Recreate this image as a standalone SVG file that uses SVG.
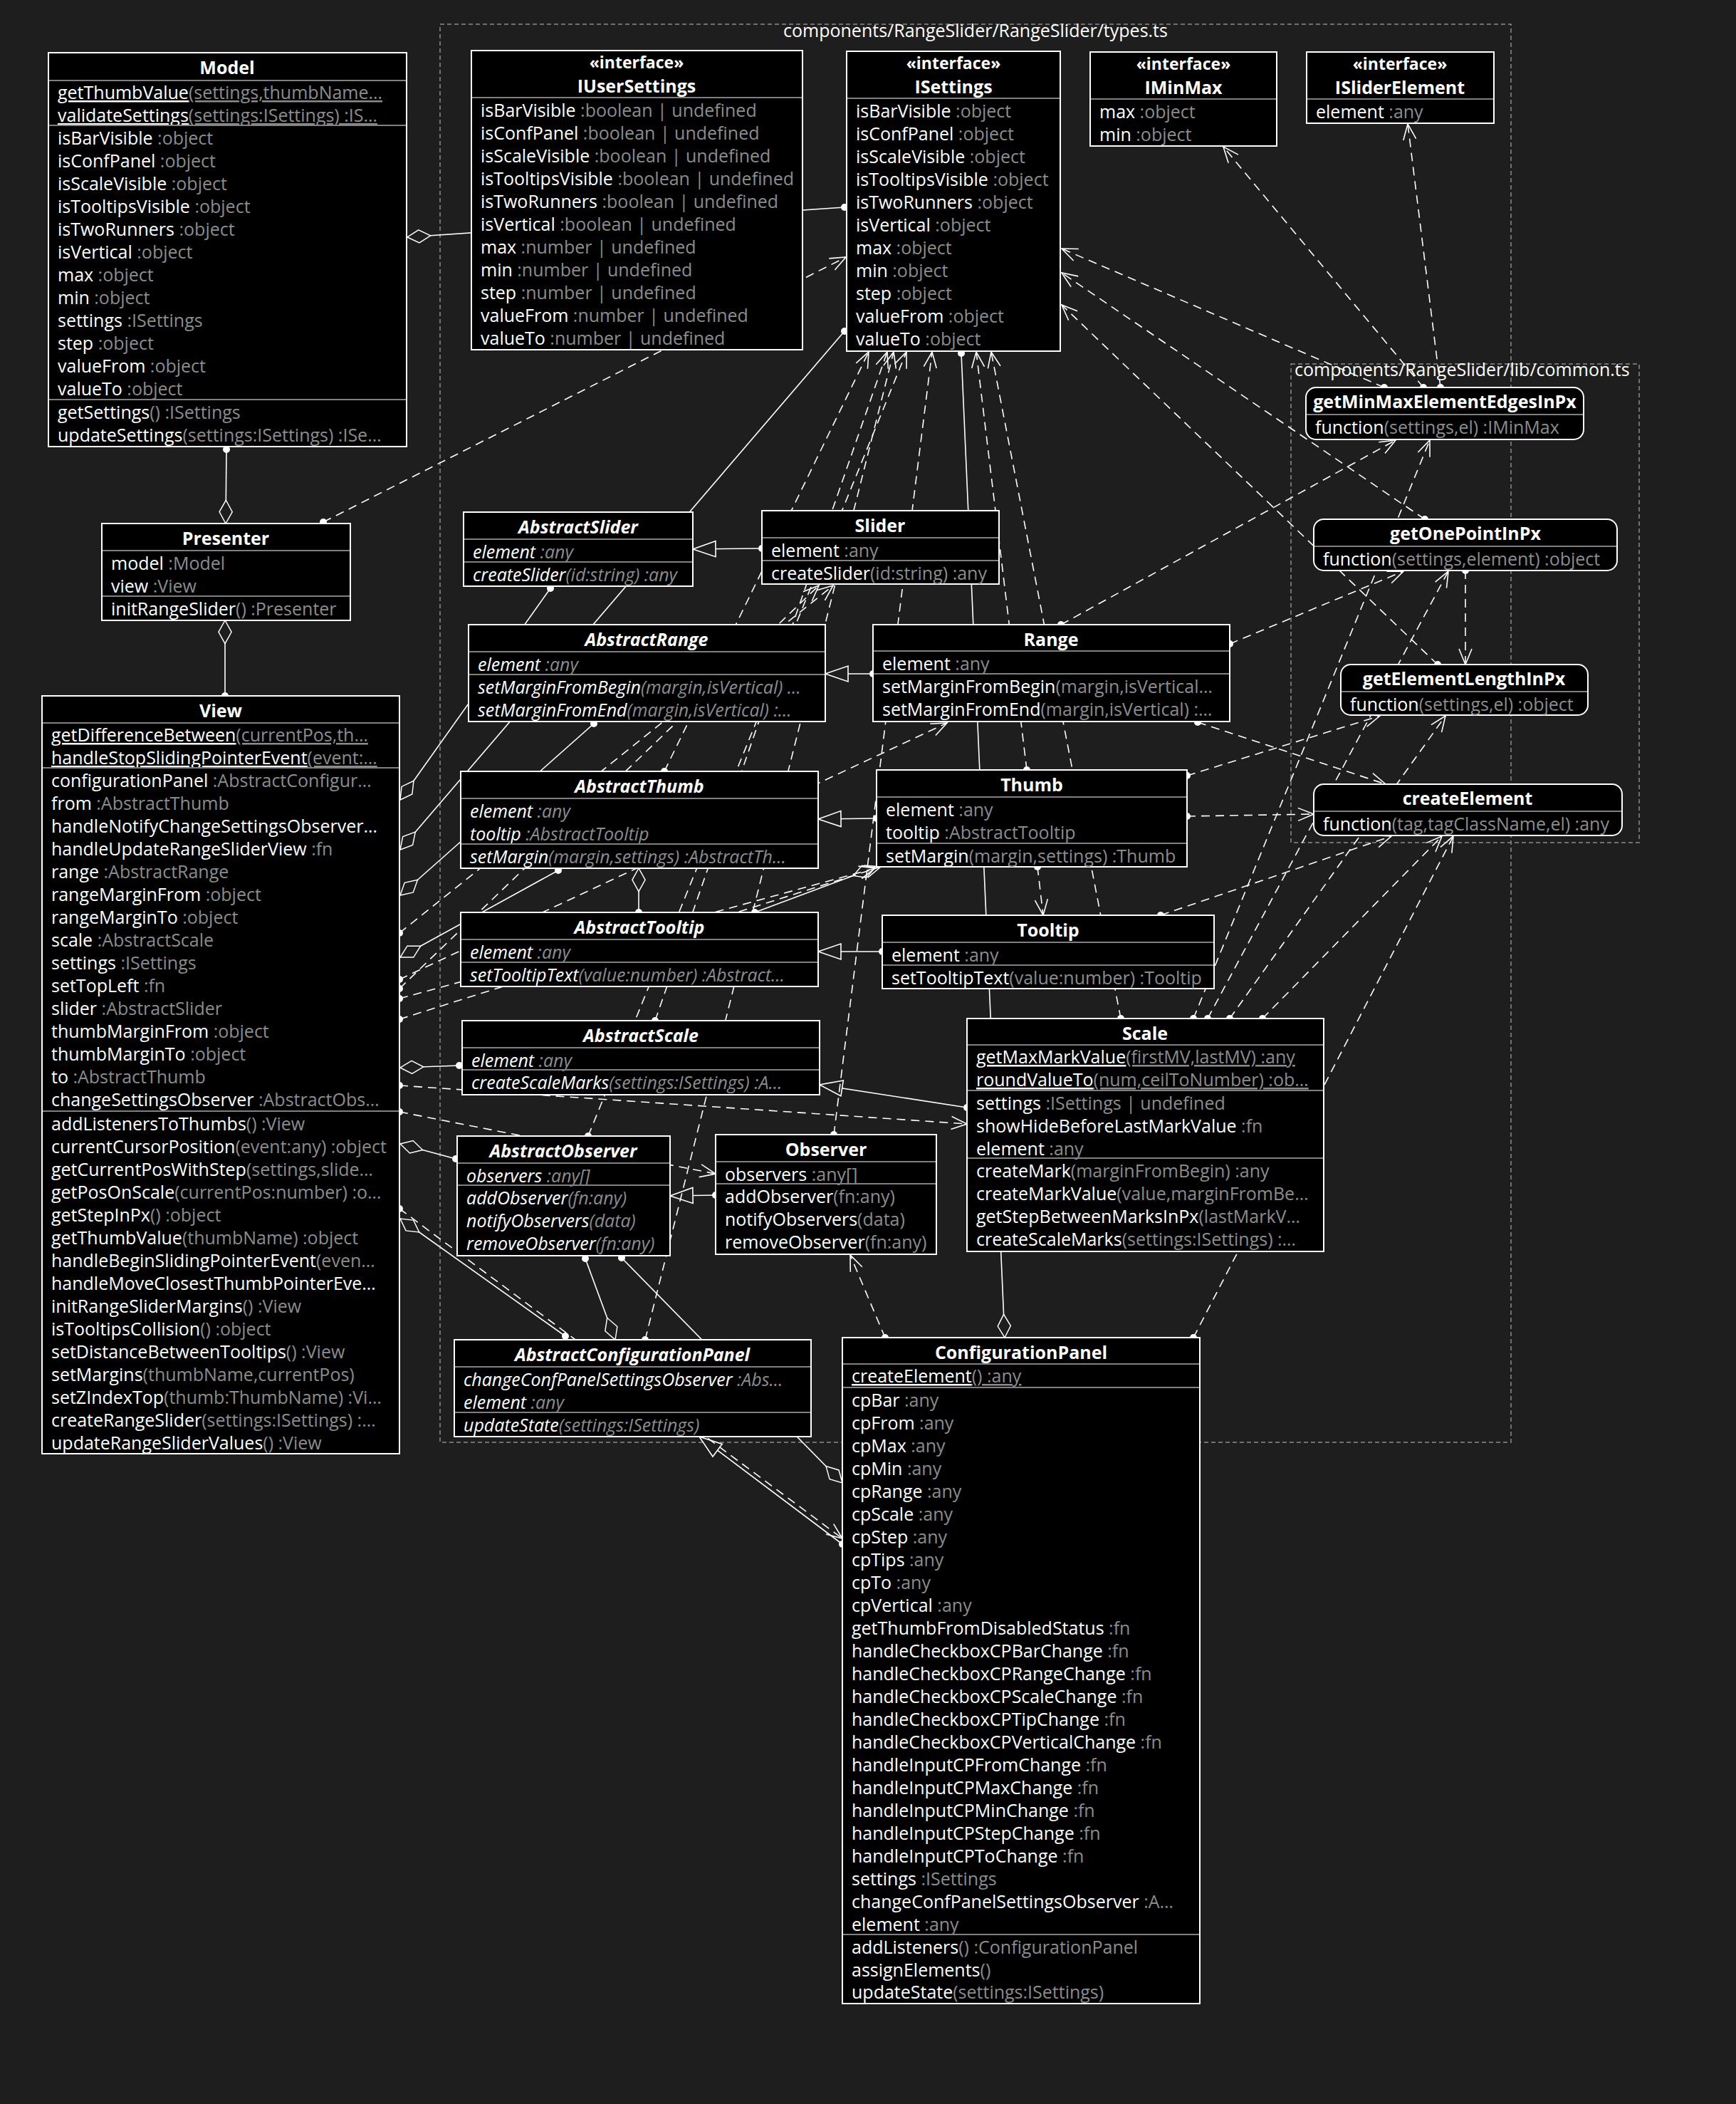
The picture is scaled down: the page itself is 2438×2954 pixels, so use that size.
<svg xmlns="http://www.w3.org/2000/svg" width="2438" height="2954" viewBox="0 0 2438 2954">
<style>
text{font-family:"Open Sans","DejaVu Sans",sans-serif;font-size:25px;fill:#fff}
.t{fill:#8c8c8c}
.hd{font-weight:bold;text-anchor:middle}
.st{font-size:23px}
.it{font-style:italic}
.u{text-decoration:underline}
.box{fill:#000;stroke:#fff;stroke-width:2}
.sep{stroke:#808080;stroke-width:2}
.pkg{fill:none;stroke:#8c8c8c;stroke-width:1.5;stroke-dasharray:6 4}
.c{fill:none;stroke:#fff;stroke-width:1.6}
.d{stroke-dasharray:12 8}
</style>
<defs>
<marker id="arr" markerUnits="userSpaceOnUse" markerWidth="40" markerHeight="40" viewBox="-30 -20 40 40" refX="0" refY="0" orient="auto" overflow="visible"><path d="M-22,-9 L0,0 L-22,9" fill="none" stroke="#fff" stroke-width="1.6"/></marker>
<marker id="tri" markerUnits="userSpaceOnUse" markerWidth="40" markerHeight="40" viewBox="-36 -20 40 40" refX="0" refY="0" orient="auto" overflow="visible"><path d="M0,0 L-32,-11 L-32,11 Z" fill="#1e1e1e" stroke="#fff" stroke-width="1.6"/></marker>
<marker id="dia" markerUnits="userSpaceOnUse" markerWidth="40" markerHeight="40" viewBox="-40 -20 44 40" refX="0" refY="0" orient="auto" overflow="visible"><path d="M0,0 L-18,-10 L-36,0 L-18,10 Z" fill="#1e1e1e" stroke="#fff" stroke-width="1.6"/></marker>
<marker id="dot" markerUnits="userSpaceOnUse" markerWidth="12" markerHeight="12" viewBox="-6 -6 12 12" refX="0" refY="0" overflow="visible"><circle r="5" fill="#fff"/></marker>
</defs>
<rect width="2438" height="2954" fill="#1e1e1e"/>

<g id="pkg-types">
<rect class="pkg" x="618" y="34" width="1504" height="1991"/>
<text x="1370" y="52" text-anchor="middle">components/RangeSlider/RangeSlider/types.ts</text>
</g>
<g id="pkg-common">
<rect class="pkg" x="1813" y="511" width="489" height="672"/>
<text x="1818" y="528">components/RangeSlider/lib/common.ts</text>
</g>

<g id="connectors">
<path class="c" d="M1186,291 L572,333" marker-start="url(#dot)" marker-end="url(#dia)"/>
<path class="c" d="M318,631 L317,735" marker-start="url(#dot)" marker-end="url(#dia)"/>
<path class="c" d="M316,977 L316,871" marker-start="url(#dot)" marker-end="url(#dia)"/>
<path class="c" d="M1186,465 L562,1193" marker-start="url(#dot)" marker-end="url(#dia)"/>
<path class="c" d="M773,826 L562,1123" marker-start="url(#dot)" marker-end="url(#dia)"/>
<path class="c" d="M834,1016 L562,1257" marker-start="url(#dot)" marker-end="url(#dia)"/>
<path class="c" d="M784,1222 L562,1344" marker-start="url(#dot)" marker-end="url(#dia)"/>
<path class="c" d="M645,1496 L562,1499" marker-start="url(#dot)" marker-end="url(#dia)"/>
<path class="c" d="M640,1627 L562,1606" marker-start="url(#dot)" marker-end="url(#dia)"/>
<path class="c" d="M794,1876 L562,1711" marker-start="url(#dot)" marker-end="url(#dia)"/>
<path class="c" d="M1350,496 L1411,1878" marker-start="url(#dot)" marker-end="url(#dia)"/>
<path class="c" d="M873,1766 L1183,2082" marker-start="url(#dot)" marker-end="url(#dia)"/>
<path class="c" d="M822,1767 L864,1881" marker-start="url(#dot)" marker-end="url(#dia)"/>
<path class="c" d="M897,1281 L897,1219" marker-start="url(#dot)" marker-end="url(#dia)"/>
<path class="c" d="M1060,1281 L1229,1218" marker-start="url(#dot)" marker-end="url(#dia)"/>
<path class="c" d="M1070,770 L973,771" marker-start="url(#dot)" marker-end="url(#tri)"/>
<path class="c" d="M1226,946 L1159,946" marker-start="url(#dot)" marker-end="url(#tri)"/>
<path class="c" d="M1231,1149 L1149,1150" marker-start="url(#dot)" marker-end="url(#tri)"/>
<path class="c" d="M1239,1336 L1149,1336" marker-start="url(#dot)" marker-end="url(#tri)"/>
<path class="c" d="M1358,1555 L1151,1523" marker-start="url(#dot)" marker-end="url(#tri)"/>
<path class="c" d="M1005,1678 L941,1679" marker-start="url(#dot)" marker-end="url(#tri)"/>
<path class="c" d="M1183,2168 L982,2017" marker-start="url(#dot)" marker-end="url(#tri)"/>
<path class="c d" d="M454,733 L1188,361" marker-start="url(#dot)" marker-end="url(#arr)"/>
<path class="c d" d="M1944,544 L1491,349" marker-start="url(#dot)" marker-end="url(#arr)"/>
<path class="c d" d="M2001,729 L1491,383" marker-start="url(#dot)" marker-end="url(#arr)"/>
<path class="c d" d="M2019,933 L1491,428" marker-start="url(#dot)" marker-end="url(#arr)"/>
<path class="c d" d="M1999,544 L1718,206" marker-start="url(#dot)" marker-end="url(#arr)"/>
<path class="c d" d="M2023,544 L1977,174" marker-start="url(#dot)" marker-end="url(#arr)"/>
<path class="c d" d="M2058,801 L2058,933" marker-start="url(#dot)" marker-end="url(#arr)"/>
<path class="c d" d="M1490,877 L1960,618" marker-start="url(#dot)" marker-end="url(#arr)"/>
<path class="c d" d="M1727,904 L1971,802" marker-start="url(#dot)" marker-end="url(#arr)"/>
<path class="c d" d="M1667,1089 L1938,1005" marker-start="url(#dot)" marker-end="url(#arr)"/>
<path class="c d" d="M1676,1430 L2008,618" marker-start="url(#dot)" marker-end="url(#arr)"/>
<path class="c d" d="M1696,1430 L2034,802" marker-start="url(#dot)" marker-end="url(#arr)"/>
<path class="c d" d="M1727,1430 L2030,1005" marker-start="url(#dot)" marker-end="url(#arr)"/>
<path class="c d" d="M1773,1430 L2025,1174" marker-start="url(#dot)" marker-end="url(#arr)"/>
<path class="c d" d="M1667,1146 L1845,1143" marker-start="url(#dot)" marker-end="url(#arr)"/>
<path class="c d" d="M1682,1014 L1946,1101" marker-start="url(#dot)" marker-end="url(#arr)"/>
<path class="c d" d="M1630,1285 L1954,1174" marker-start="url(#dot)" marker-end="url(#arr)"/>
<path class="c d" d="M1676,1878 L2041,1174" marker-start="url(#dot)" marker-end="url(#arr)"/>
<path class="c d" d="M1574,1430 L1392,494" marker-start="url(#dot)" marker-end="url(#arr)"/>
<path class="c d" d="M1442,1081 L1371,494" marker-start="url(#dot)" marker-end="url(#arr)"/>
<path class="c d" d="M933,1083 L1220,494" marker-start="url(#dot)" marker-end="url(#arr)"/>
<path class="c d" d="M920,1433 L1246,494" marker-start="url(#dot)" marker-end="url(#arr)"/>
<path class="c d" d="M906,1881 L1255,494" marker-start="url(#dot)" marker-end="url(#arr)"/>
<path class="c d" d="M826,1595 L1273,494" marker-start="url(#dot)" marker-end="url(#arr)"/>
<path class="c d" d="M1171,1593 L1309,494" marker-start="url(#dot)" marker-end="url(#arr)"/>
<path class="c d" d="M561,1310 L1170,822" marker-start="url(#dot)" marker-end="url(#arr)"/>
<path class="c d" d="M561,1375 L1330,1015" marker-start="url(#dot)" marker-end="url(#arr)"/>
<path class="c d" d="M561,1388 L1150,822" marker-start="url(#dot)" marker-end="url(#arr)"/>
<path class="c d" d="M561,1402 L1229,1219" marker-start="url(#dot)" marker-end="url(#arr)"/>
<path class="c d" d="M561,1431 L1237,1217" marker-start="url(#dot)" marker-end="url(#arr)"/>
<path class="c d" d="M561,1524 L1358,1578" marker-start="url(#dot)" marker-end="url(#arr)"/>
<path class="c d" d="M561,1561 L1005,1648" marker-start="url(#dot)" marker-end="url(#arr)"/>
<path class="c d" d="M561,1697 L1183,2160" marker-start="url(#dot)" marker-end="url(#arr)"/>
<path class="c d" d="M1457,1217 L1465,1285" marker-start="url(#dot)" marker-end="url(#arr)"/>
<path class="c d" d="M1243,1878 L1194,1762" marker-start="url(#dot)" marker-end="url(#arr)"/>
</g>

<g id="Model">
<rect class="box" x="68" y="74" width="503" height="553"/>
<text class="hd" x="319" y="104">Model</text>
<line class="sep" x1="69" y1="113" x2="570" y2="113"/>
<text x="81" y="139"><tspan class="u">getThumbValue</tspan><tspan class="t u">(settings,thumbName…</tspan></text>
<text x="81" y="171"><tspan class="u">validateSettings</tspan><tspan class="t u">(settings:ISettings) :IS…</tspan></text>
<line class="sep" x1="69" y1="176" x2="570" y2="176"/>
<text x="81" y="203">isBarVisible<tspan class="t"> :object</tspan></text>
<text x="81" y="235">isConfPanel<tspan class="t"> :object</tspan></text>
<text x="81" y="267">isScaleVisible<tspan class="t"> :object</tspan></text>
<text x="81" y="299">isTooltipsVisible<tspan class="t"> :object</tspan></text>
<text x="81" y="331">isTwoRunners<tspan class="t"> :object</tspan></text>
<text x="81" y="363">isVertical<tspan class="t"> :object</tspan></text>
<text x="81" y="395">max<tspan class="t"> :object</tspan></text>
<text x="81" y="427">min<tspan class="t"> :object</tspan></text>
<text x="81" y="459">settings<tspan class="t"> :ISettings</tspan></text>
<text x="81" y="491">step<tspan class="t"> :object</tspan></text>
<text x="81" y="523">valueFrom<tspan class="t"> :object</tspan></text>
<text x="81" y="555">valueTo<tspan class="t"> :object</tspan></text>
<line class="sep" x1="69" y1="561" x2="570" y2="561"/>
<text x="81" y="588">getSettings<tspan class="t">() :ISettings</tspan></text>
<text x="81" y="620">updateSettings<tspan class="t">(settings:ISettings) :ISe…</tspan></text>
</g>

<g id="IUserSettings">
<rect class="box" x="662" y="71" width="465" height="420"/>
<text class="hd st" x="894" y="96">«interface»</text>
<text class="hd" x="894" y="130">IUserSettings</text>
<line class="sep" x1="663" y1="137" x2="1126" y2="137"/>
<text x="675" y="164">isBarVisible<tspan class="t"> :boolean | undefined</tspan></text>
<text x="675" y="196">isConfPanel<tspan class="t"> :boolean | undefined</tspan></text>
<text x="675" y="228">isScaleVisible<tspan class="t"> :boolean | undefined</tspan></text>
<text x="675" y="260">isTooltipsVisible<tspan class="t"> :boolean | undefined</tspan></text>
<text x="675" y="292">isTwoRunners<tspan class="t"> :boolean | undefined</tspan></text>
<text x="675" y="324">isVertical<tspan class="t"> :boolean | undefined</tspan></text>
<text x="675" y="356">max<tspan class="t"> :number | undefined</tspan></text>
<text x="675" y="388">min<tspan class="t"> :number | undefined</tspan></text>
<text x="675" y="420">step<tspan class="t"> :number | undefined</tspan></text>
<text x="675" y="452">valueFrom<tspan class="t"> :number | undefined</tspan></text>
<text x="675" y="484">valueTo<tspan class="t"> :number | undefined</tspan></text>
</g>

<g id="ISettings">
<rect class="box" x="1189" y="72" width="300" height="421"/>
<text class="hd st" x="1339" y="97">«interface»</text>
<text class="hd" x="1339" y="131">ISettings</text>
<line class="sep" x1="1190" y1="138" x2="1488" y2="138"/>
<text x="1202" y="165">isBarVisible<tspan class="t"> :object</tspan></text>
<text x="1202" y="197">isConfPanel<tspan class="t"> :object</tspan></text>
<text x="1202" y="229">isScaleVisible<tspan class="t"> :object</tspan></text>
<text x="1202" y="261">isTooltipsVisible<tspan class="t"> :object</tspan></text>
<text x="1202" y="293">isTwoRunners<tspan class="t"> :object</tspan></text>
<text x="1202" y="325">isVertical<tspan class="t"> :object</tspan></text>
<text x="1202" y="357">max<tspan class="t"> :object</tspan></text>
<text x="1202" y="389">min<tspan class="t"> :object</tspan></text>
<text x="1202" y="421">step<tspan class="t"> :object</tspan></text>
<text x="1202" y="453">valueFrom<tspan class="t"> :object</tspan></text>
<text x="1202" y="485">valueTo<tspan class="t"> :object</tspan></text>
</g>

<g id="IMinMax">
<rect class="box" x="1531" y="73" width="262" height="132"/>
<text class="hd st" x="1662" y="98">«interface»</text>
<text class="hd" x="1662" y="132">IMinMax</text>
<line class="sep" x1="1532" y1="139" x2="1792" y2="139"/>
<text x="1544" y="166">max<tspan class="t"> :object</tspan></text>
<text x="1544" y="198">min<tspan class="t"> :object</tspan></text>
</g>

<g id="ISliderElement">
<rect class="box" x="1835" y="73" width="263" height="100"/>
<text class="hd st" x="1966" y="98">«interface»</text>
<text class="hd" x="1966" y="132">ISliderElement</text>
<line class="sep" x1="1836" y1="139" x2="2097" y2="139"/>
<text x="1848" y="166">element<tspan class="t"> :any</tspan></text>
</g>

<g id="getMinMaxElementEdgesInPx">
<rect class="box" x="1834" y="544" width="390" height="73" rx="14"/>
<text class="hd" x="2029" y="573">getMinMaxElementEdgesInPx</text>
<line class="sep" x1="1835" y1="582" x2="2223" y2="582"/>
<text x="1847" y="609">function<tspan class="t">(settings,el) :IMinMax</tspan></text>
</g>

<g id="getOnePointInPx">
<rect class="box" x="1845" y="729" width="426" height="72" rx="14"/>
<text class="hd" x="2058" y="758">getOnePointInPx</text>
<line class="sep" x1="1846" y1="767" x2="2270" y2="767"/>
<text x="1858" y="794">function<tspan class="t">(settings,element) :object</tspan></text>
</g>

<g id="getElementLengthInPx">
<rect class="box" x="1883" y="933" width="347" height="71" rx="14"/>
<text class="hd" x="2056" y="962">getElementLengthInPx</text>
<line class="sep" x1="1884" y1="971" x2="2229" y2="971"/>
<text x="1896" y="998">function<tspan class="t">(settings,el) :object</tspan></text>
</g>

<g id="createElement">
<rect class="box" x="1845" y="1101" width="433" height="72" rx="14"/>
<text class="hd" x="2061" y="1130">createElement</text>
<line class="sep" x1="1846" y1="1139" x2="2277" y2="1139"/>
<text x="1858" y="1166">function<tspan class="t">(tag,tagClassName,el) :any</tspan></text>
</g>

<g id="Presenter">
<rect class="box" x="143" y="735" width="349" height="136"/>
<text class="hd" x="317" y="765">Presenter</text>
<line class="sep" x1="144" y1="773" x2="491" y2="773"/>
<text x="156" y="800">model<tspan class="t"> :Model</tspan></text>
<text x="156" y="832">view<tspan class="t"> :View</tspan></text>
<line class="sep" x1="144" y1="837" x2="491" y2="837"/>
<text x="156" y="864">initRangeSlider<tspan class="t">() :Presenter</tspan></text>
</g>

<g id="View">
<rect class="box" x="59" y="977" width="502" height="1064"/>
<text class="hd" x="310" y="1007">View</text>
<line class="sep" x1="60" y1="1015" x2="560" y2="1015"/>
<text x="72" y="1041"><tspan class="u">getDifferenceBetween</tspan><tspan class="t u">(currentPos,th…</tspan></text>
<text x="72" y="1073"><tspan class="u">handleStopSlidingPointerEvent</tspan><tspan class="t u">(event:…</tspan></text>
<line class="sep" x1="60" y1="1078" x2="560" y2="1078"/>
<text x="72" y="1105">configurationPanel<tspan class="t"> :AbstractConfigur…</tspan></text>
<text x="72" y="1137">from<tspan class="t"> :AbstractThumb</tspan></text>
<text x="72" y="1169">handleNotifyChangeSettingsObserver…</text>
<text x="72" y="1201">handleUpdateRangeSliderView<tspan class="t"> :fn</tspan></text>
<text x="72" y="1233">range<tspan class="t"> :AbstractRange</tspan></text>
<text x="72" y="1265">rangeMarginFrom<tspan class="t"> :object</tspan></text>
<text x="72" y="1297">rangeMarginTo<tspan class="t"> :object</tspan></text>
<text x="72" y="1329">scale<tspan class="t"> :AbstractScale</tspan></text>
<text x="72" y="1361">settings<tspan class="t"> :ISettings</tspan></text>
<text x="72" y="1393">setTopLeft<tspan class="t"> :fn</tspan></text>
<text x="72" y="1425">slider<tspan class="t"> :AbstractSlider</tspan></text>
<text x="72" y="1457">thumbMarginFrom<tspan class="t"> :object</tspan></text>
<text x="72" y="1489">thumbMarginTo<tspan class="t"> :object</tspan></text>
<text x="72" y="1521">to<tspan class="t"> :AbstractThumb</tspan></text>
<text x="72" y="1553">changeSettingsObserver<tspan class="t"> :AbstractObs…</tspan></text>
<line class="sep" x1="60" y1="1560" x2="560" y2="1560"/>
<text x="72" y="1587">addListenersToThumbs<tspan class="t">() :View</tspan></text>
<text x="72" y="1619">currentCursorPosition<tspan class="t">(event:any) :object</tspan></text>
<text x="72" y="1651">getCurrentPosWithStep<tspan class="t">(settings,slide…</tspan></text>
<text x="72" y="1683">getPosOnScale<tspan class="t">(currentPos:number) :o…</tspan></text>
<text x="72" y="1715">getStepInPx<tspan class="t">() :object</tspan></text>
<text x="72" y="1747">getThumbValue<tspan class="t">(thumbName) :object</tspan></text>
<text x="72" y="1779">handleBeginSlidingPointerEvent<tspan class="t">(even…</tspan></text>
<text x="72" y="1811">handleMoveClosestThumbPointerEve…</text>
<text x="72" y="1843">initRangeSliderMargins<tspan class="t">() :View</tspan></text>
<text x="72" y="1875">isTooltipsCollision<tspan class="t">() :object</tspan></text>
<text x="72" y="1907">setDistanceBetweenTooltips<tspan class="t">() :View</tspan></text>
<text x="72" y="1939">setMargins<tspan class="t">(thumbName,currentPos)</tspan></text>
<text x="72" y="1971">setZIndexTop<tspan class="t">(thumb:ThumbName) :Vi…</tspan></text>
<text x="72" y="2003">createRangeSlider<tspan class="t">(settings:ISettings) :…</tspan></text>
<text x="72" y="2035">updateRangeSliderValues<tspan class="t">() :View</tspan></text>
</g>

<g id="AbstractSlider">
<rect class="box" x="651" y="719" width="322" height="104"/>
<text class="hd it" x="812" y="749">AbstractSlider</text>
<line class="sep" x1="652" y1="757" x2="972" y2="757"/>
<text class="it" x="664" y="784">element<tspan class="t"> :any</tspan></text>
<line class="sep" x1="652" y1="789" x2="972" y2="789"/>
<text class="it" x="664" y="816">createSlider<tspan class="t">(id:string) :any</tspan></text>
</g>

<g id="Slider">
<rect class="box" x="1070" y="717" width="333" height="103"/>
<text class="hd" x="1236" y="747">Slider</text>
<line class="sep" x1="1071" y1="755" x2="1402" y2="755"/>
<text x="1083" y="782">element<tspan class="t"> :any</tspan></text>
<line class="sep" x1="1071" y1="787" x2="1402" y2="787"/>
<text x="1083" y="814">createSlider<tspan class="t">(id:string) :any</tspan></text>
</g>

<g id="AbstractRange">
<rect class="box" x="658" y="877" width="501" height="136"/>
<text class="hd it" x="908" y="907">AbstractRange</text>
<line class="sep" x1="659" y1="915" x2="1158" y2="915"/>
<text class="it" x="671" y="942">element<tspan class="t"> :any</tspan></text>
<line class="sep" x1="659" y1="947" x2="1158" y2="947"/>
<text class="it" x="671" y="974">setMarginFromBegin<tspan class="t">(margin,isVertical) …</tspan></text>
<text class="it" x="671" y="1006">setMarginFromEnd<tspan class="t">(margin,isVertical) :…</tspan></text>
</g>

<g id="Range">
<rect class="box" x="1226" y="877" width="501" height="136"/>
<text class="hd" x="1476" y="907">Range</text>
<line class="sep" x1="1227" y1="914" x2="1726" y2="914"/>
<text x="1239" y="941">element<tspan class="t"> :any</tspan></text>
<line class="sep" x1="1227" y1="946" x2="1726" y2="946"/>
<text x="1239" y="973">setMarginFromBegin<tspan class="t">(margin,isVertical…</tspan></text>
<text x="1239" y="1005">setMarginFromEnd<tspan class="t">(margin,isVertical) :…</tspan></text>
</g>

<g id="AbstractThumb">
<rect class="box" x="647" y="1083" width="502" height="136"/>
<text class="hd it" x="898" y="1113">AbstractThumb</text>
<line class="sep" x1="648" y1="1121" x2="1148" y2="1121"/>
<text class="it" x="660" y="1148">element<tspan class="t"> :any</tspan></text>
<text class="it" x="660" y="1180">tooltip<tspan class="t"> :AbstractTooltip</tspan></text>
<line class="sep" x1="648" y1="1185" x2="1148" y2="1185"/>
<text class="it" x="660" y="1212">setMargin<tspan class="t">(margin,settings) :AbstractTh…</tspan></text>
</g>

<g id="Thumb">
<rect class="box" x="1231" y="1081" width="436" height="136"/>
<text class="hd" x="1449" y="1111">Thumb</text>
<line class="sep" x1="1232" y1="1119" x2="1666" y2="1119"/>
<text x="1244" y="1146">element<tspan class="t"> :any</tspan></text>
<text x="1244" y="1178">tooltip<tspan class="t"> :AbstractTooltip</tspan></text>
<line class="sep" x1="1232" y1="1184" x2="1666" y2="1184"/>
<text x="1244" y="1211">setMargin<tspan class="t">(margin,settings) :Thumb</tspan></text>
</g>

<g id="AbstractTooltip">
<rect class="box" x="647" y="1281" width="502" height="104"/>
<text class="hd it" x="898" y="1311">AbstractTooltip</text>
<line class="sep" x1="648" y1="1319" x2="1148" y2="1319"/>
<text class="it" x="660" y="1346">element<tspan class="t"> :any</tspan></text>
<line class="sep" x1="648" y1="1351" x2="1148" y2="1351"/>
<text class="it" x="660" y="1378">setTooltipText<tspan class="t">(value:number) :Abstract…</tspan></text>
</g>

<g id="Tooltip">
<rect class="box" x="1239" y="1285" width="466" height="103"/>
<text class="hd" x="1472" y="1315">Tooltip</text>
<line class="sep" x1="1240" y1="1323" x2="1704" y2="1323"/>
<text x="1252" y="1350">element<tspan class="t"> :any</tspan></text>
<line class="sep" x1="1240" y1="1355" x2="1704" y2="1355"/>
<text x="1252" y="1382">setTooltipText<tspan class="t">(value:number) :Tooltip</tspan></text>
</g>

<g id="AbstractScale">
<rect class="box" x="649" y="1433" width="502" height="104"/>
<text class="hd it" x="900" y="1463">AbstractScale</text>
<line class="sep" x1="650" y1="1471" x2="1150" y2="1471"/>
<text class="it" x="662" y="1498">element<tspan class="t"> :any</tspan></text>
<line class="sep" x1="650" y1="1502" x2="1150" y2="1502"/>
<text class="it" x="662" y="1529">createScaleMarks<tspan class="t">(settings:ISettings) :A…</tspan></text>
</g>

<g id="Scale">
<rect class="box" x="1358" y="1430" width="501" height="327"/>
<text class="hd" x="1608" y="1460">Scale</text>
<line class="sep" x1="1359" y1="1467" x2="1858" y2="1467"/>
<text x="1371" y="1493"><tspan class="u">getMaxMarkValue</tspan><tspan class="t u">(firstMV,lastMV) :any</tspan></text>
<text x="1371" y="1525"><tspan class="u">roundValueTo</tspan><tspan class="t u">(num,ceilToNumber) :ob…</tspan></text>
<line class="sep" x1="1359" y1="1531" x2="1858" y2="1531"/>
<text x="1371" y="1558">settings<tspan class="t"> :ISettings | undefined</tspan></text>
<text x="1371" y="1590">showHideBeforeLastMarkValue<tspan class="t"> :fn</tspan></text>
<text x="1371" y="1622">element<tspan class="t"> :any</tspan></text>
<line class="sep" x1="1359" y1="1626" x2="1858" y2="1626"/>
<text x="1371" y="1653">createMark<tspan class="t">(marginFromBegin) :any</tspan></text>
<text x="1371" y="1685">createMarkValue<tspan class="t">(value,marginFromBe…</tspan></text>
<text x="1371" y="1717">getStepBetweenMarksInPx<tspan class="t">(lastMarkV…</tspan></text>
<text x="1371" y="1749">createScaleMarks<tspan class="t">(settings:ISettings) :…</tspan></text>
</g>

<g id="AbstractObserver">
<rect class="box" x="642" y="1595" width="299" height="168"/>
<text class="hd it" x="791" y="1625">AbstractObserver</text>
<line class="sep" x1="643" y1="1633" x2="940" y2="1633"/>
<text class="it" x="655" y="1660">observers<tspan class="t"> :any[]</tspan></text>
<line class="sep" x1="643" y1="1664" x2="940" y2="1664"/>
<text class="it" x="655" y="1691">addObserver<tspan class="t">(fn:any)</tspan></text>
<text class="it" x="655" y="1723">notifyObservers<tspan class="t">(data)</tspan></text>
<text class="it" x="655" y="1755">removeObserver<tspan class="t">(fn:any)</tspan></text>
</g>

<g id="Observer">
<rect class="box" x="1005" y="1593" width="310" height="168"/>
<text class="hd" x="1160" y="1623">Observer</text>
<line class="sep" x1="1006" y1="1631" x2="1314" y2="1631"/>
<text x="1018" y="1658">observers<tspan class="t"> :any[]</tspan></text>
<line class="sep" x1="1006" y1="1662" x2="1314" y2="1662"/>
<text x="1018" y="1689">addObserver<tspan class="t">(fn:any)</tspan></text>
<text x="1018" y="1721">notifyObservers<tspan class="t">(data)</tspan></text>
<text x="1018" y="1753">removeObserver<tspan class="t">(fn:any)</tspan></text>
</g>

<g id="AbstractConfigurationPanel">
<rect class="box" x="638" y="1881" width="501" height="136"/>
<text class="hd it" x="888" y="1911">AbstractConfigurationPanel</text>
<line class="sep" x1="639" y1="1919" x2="1138" y2="1919"/>
<text class="it" x="651" y="1946">changeConfPanelSettingsObserver<tspan class="t"> :Abs…</tspan></text>
<text class="it" x="651" y="1978">element<tspan class="t"> :any</tspan></text>
<line class="sep" x1="639" y1="1983" x2="1138" y2="1983"/>
<text class="it" x="651" y="2010">updateState<tspan class="t">(settings:ISettings)</tspan></text>
</g>

<g id="ConfigurationPanel">
<rect class="box" x="1183" y="1878" width="502" height="935"/>
<text class="hd" x="1434" y="1908">ConfigurationPanel</text>
<line class="sep" x1="1184" y1="1915" x2="1684" y2="1915"/>
<text x="1196" y="1941"><tspan class="u">createElement</tspan><tspan class="t u">() :any</tspan></text>
<line class="sep" x1="1184" y1="1948" x2="1684" y2="1948"/>
<text x="1196" y="1975">cpBar<tspan class="t"> :any</tspan></text>
<text x="1196" y="2007">cpFrom<tspan class="t"> :any</tspan></text>
<text x="1196" y="2039">cpMax<tspan class="t"> :any</tspan></text>
<text x="1196" y="2071">cpMin<tspan class="t"> :any</tspan></text>
<text x="1196" y="2103">cpRange<tspan class="t"> :any</tspan></text>
<text x="1196" y="2135">cpScale<tspan class="t"> :any</tspan></text>
<text x="1196" y="2167">cpStep<tspan class="t"> :any</tspan></text>
<text x="1196" y="2199">cpTips<tspan class="t"> :any</tspan></text>
<text x="1196" y="2231">cpTo<tspan class="t"> :any</tspan></text>
<text x="1196" y="2263">cpVertical<tspan class="t"> :any</tspan></text>
<text x="1196" y="2295">getThumbFromDisabledStatus<tspan class="t"> :fn</tspan></text>
<text x="1196" y="2327">handleCheckboxCPBarChange<tspan class="t"> :fn</tspan></text>
<text x="1196" y="2359">handleCheckboxCPRangeChange<tspan class="t"> :fn</tspan></text>
<text x="1196" y="2391">handleCheckboxCPScaleChange<tspan class="t"> :fn</tspan></text>
<text x="1196" y="2423">handleCheckboxCPTipChange<tspan class="t"> :fn</tspan></text>
<text x="1196" y="2455">handleCheckboxCPVerticalChange<tspan class="t"> :fn</tspan></text>
<text x="1196" y="2487">handleInputCPFromChange<tspan class="t"> :fn</tspan></text>
<text x="1196" y="2519">handleInputCPMaxChange<tspan class="t"> :fn</tspan></text>
<text x="1196" y="2551">handleInputCPMinChange<tspan class="t"> :fn</tspan></text>
<text x="1196" y="2583">handleInputCPStepChange<tspan class="t"> :fn</tspan></text>
<text x="1196" y="2615">handleInputCPToChange<tspan class="t"> :fn</tspan></text>
<text x="1196" y="2647">settings<tspan class="t"> :ISettings</tspan></text>
<text x="1196" y="2679">changeConfPanelSettingsObserver<tspan class="t"> :A…</tspan></text>
<text x="1196" y="2711">element<tspan class="t"> :any</tspan></text>
<line class="sep" x1="1184" y1="2716" x2="1684" y2="2716"/>
<text x="1196" y="2743">addListeners<tspan class="t">() :ConfigurationPanel</tspan></text>
<text x="1196" y="2775">assignElements<tspan class="t">()</tspan></text>
<text x="1196" y="2806">updateState<tspan class="t">(settings:ISettings)</tspan></text>
</g>
</svg>
